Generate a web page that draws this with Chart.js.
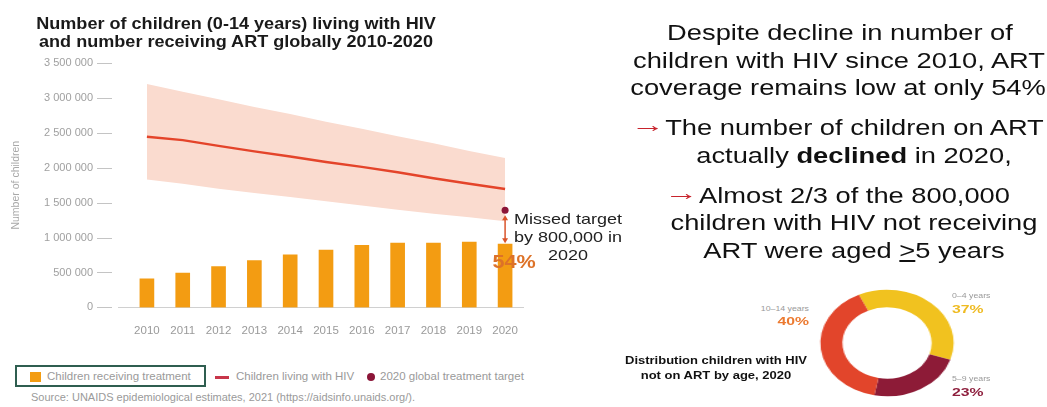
<!DOCTYPE html>
<html>
<head>
<meta charset="utf-8">
<script src="https://cdn.jsdelivr.net/npm/chart.js@4.4.1/dist/chart.umd.min.js"></script>
<style>
  html, body { margin:0; padding:0; background:#fff; }
  body { width:1047px; height:407px; overflow:hidden; position:relative; font-family:"Liberation Sans", Arial, sans-serif; }
  .t { position:absolute; white-space:nowrap; line-height:1; }
  .c { width:800px; text-align:center; }
  .arr { color:#c8232c; display:inline-block; transform:translateY(-3px) scaleX(1.25); margin-right:3px; }
  #main { position:absolute; left:0; top:0; }
  #donutWrap { position:absolute; left:827px; top:283px; width:120px; height:120px; transform:scaleX(1.25); }
</style>
</head>
<body>
<canvas id="main" width="545" height="350"></canvas>
<div id="donutWrap"><canvas id="donut" width="120" height="120"></canvas></div>

<!-- left chart title -->
<div class="t c" style="left:-164px;top:15.3px;font-size:16.5px;font-weight:bold;color:#1a1a1a;transform:scaleX(1.095)">Number of children (0-14 years) living with HIV</div>
<div class="t c" style="left:-164px;top:33px;font-size:16.5px;font-weight:bold;color:#1a1a1a;transform:scaleX(1.095)">and number receiving ART globally 2010-2020</div>

<!-- annotation -->
<div class="t c" style="left:168px;top:211.3px;font-size:15px;color:#222;transform:scaleX(1.2)">Missed target</div>
<div class="t c" style="left:168px;top:229.3px;font-size:15px;color:#222;transform:scaleX(1.2)">by 800,000 in</div>
<div class="t c" style="left:168px;top:247.3px;font-size:15px;color:#222;transform:scaleX(1.2)">2020</div>
<div class="t c" style="left:113.5px;top:253.1px;font-size:18px;font-weight:bold;color:#dd7228;transform:scaleX(1.2)">54%</div>

<!-- legend -->
<div style="position:absolute;left:15px;top:365px;width:191px;height:22px;border:2px solid #2f5e50;box-sizing:border-box;"></div>
<div style="position:absolute;left:30px;top:372px;width:11px;height:10px;background:#f39c12;"></div>
<div class="t" style="left:47px;top:371.3px;font-size:11.5px;color:#9a9a9a">Children receiving treatment</div>
<div style="position:absolute;left:215px;top:376px;width:14px;height:2.5px;background:#c8364a;"></div>
<div class="t" style="left:236px;top:371.3px;font-size:11.5px;color:#9a9a9a">Children living with HIV</div>
<div style="position:absolute;left:367px;top:373px;width:8px;height:8px;border-radius:50%;background:#8b1538;"></div>
<div class="t" style="left:380px;top:371.3px;font-size:11.5px;color:#9a9a9a">2020 global treatment target</div>
<div class="t" style="left:31px;top:392.3px;font-size:11px;color:#9a9a9a">Source: UNAIDS epidemiological estimates, 2021 (https://aidsinfo.unaids.org/).</div>

<!-- right text -->
<div class="t c" style="left:439.5px;top:22.1px;font-size:22px;color:#111;transform:scaleX(1.24)">Despite decline in number of</div>
<div class="t c" style="left:438.5px;top:49.7px;font-size:22px;color:#111;transform:scaleX(1.24)">children with HIV since 2010, ART</div>
<div class="t c" style="left:438px;top:77.4px;font-size:22px;color:#111;transform:scaleX(1.24)">coverage remains low at only 54%</div>
<div class="t c" style="left:439px;top:117.4px;font-size:22px;color:#111;transform:scaleX(1.24)"><span class="arr">→</span>The number of children on ART</div>
<div class="t c" style="left:454px;top:144.7px;font-size:22px;color:#111;transform:scaleX(1.24)">actually <b>declined</b> in 2020,</div>
<div class="t c" style="left:439px;top:184.7px;font-size:22px;color:#111;transform:scaleX(1.24)"><span class="arr">→</span>Almost 2/3 of the 800,000</div>
<div class="t c" style="left:453.5px;top:212.4px;font-size:22px;color:#111;transform:scaleX(1.24)">children with HIV not receiving</div>
<div class="t c" style="left:454px;top:239.7px;font-size:22px;color:#111;transform:scaleX(1.24)">ART were aged <u>&gt;</u>5 years</div>

<!-- donut texts -->
<div class="t c" style="left:316px;top:355.5px;font-size:10px;font-weight:bold;color:#111;transform:scaleX(1.3)">Distribution children with HIV</div>
<div class="t c" style="left:316px;top:371px;font-size:10px;font-weight:bold;color:#111;transform:scaleX(1.3)">not on ART by age, 2020</div>
<div class="t" style="left:952px;top:292.1px;font-size:7px;color:#999;transform:scaleX(1.25);transform-origin:left center">0–4 years</div>
<div class="t" style="left:952px;top:303.6px;font-size:11.5px;font-weight:bold;color:#efbb22;transform:scaleX(1.37);transform-origin:left center">37%</div>
<div class="t" style="left:952px;top:374.6px;font-size:7px;color:#999;transform:scaleX(1.25);transform-origin:left center">5–9 years</div>
<div class="t" style="left:952px;top:387px;font-size:11.5px;font-weight:bold;color:#8e1f3d;transform:scaleX(1.37);transform-origin:left center">23%</div>
<div class="t" style="left:609px;top:304.6px;width:200px;text-align:right;font-size:7px;color:#999;transform:scaleX(1.25);transform-origin:right center">10–14 years</div>
<div class="t" style="left:609px;top:316.3px;width:200px;text-align:right;font-size:11.5px;font-weight:bold;color:#ec7a30;transform:scaleX(1.37);transform-origin:right center">40%</div>

<script>
// ---- data ----
const years = ['2010','2011','2012','2013','2014','2015','2016','2017','2018','2019','2020'];
const childrenOnART = [409000, 493000, 585000, 669000, 753000, 822000, 888000, 920000, 920000, 934000, 906000];
const childrenLivingHIV = [2444000, 2396000, 2314000, 2235000, 2161000, 2082000, 2012000, 1935000, 1849000, 1770000, 1696000];
const livingUpper = [3200000, 3090000, 2980000, 2870000, 2770000, 2660000, 2560000, 2450000, 2350000, 2240000, 2140000];
const livingLower = [1830000, 1770000, 1700000, 1640000, 1580000, 1520000, 1460000, 1400000, 1340000, 1290000, 1235000];
const target2020 = [null, null, null, null, null, null, null, null, null, null, 1390000];
const yTicks = [0, 500000, 1000000, 1500000, 2000000, 2500000, 3000000, 3500000];

const ageGroups = ['0–4 years', '5–9 years', '10–14 years'];
const ageShares = [37, 23, 40];

const fmt = v => String(v).replace(/\B(?=(\d{3})+(?!\d))/g, ' ');

const dashPlugin = {
  id: 'dashes',
  afterDraw(chart) {
    const ys = chart.scales.y, xs = chart.scales.x, ctx = chart.ctx;
    ctx.save();
    ctx.strokeStyle = '#c4c4c4';
    ctx.lineWidth = 1;
    ys.ticks.forEach(t => {
      const y = Math.round(ys.getPixelForValue(t.value)) + 0.5;
      ctx.beginPath();
      ctx.moveTo(ys.right - 32, y);
      ctx.lineTo(ys.right - 17, y);
      ctx.stroke();
    });
    // extend baseline a little to the left, as in the original
    const y0 = Math.round(ys.getPixelForValue(0)) + 0.5;
    ctx.strokeStyle = '#d0d0d0';
    ctx.beginPath();
    ctx.moveTo(ys.right - 11, y0);
    ctx.lineTo(ys.right, y0);
    ctx.stroke();
    // missed-target arrow
    const i = years.length - 1;
    const x = xs.getPixelForValue(i);
    const yTop = ys.getPixelForValue(target2020[i]) + 5;
    const yBot = ys.getPixelForValue(childrenOnART[i]) - 1;
    ctx.strokeStyle = '#d9542b';
    ctx.fillStyle = '#d9542b';
    ctx.lineWidth = 1.5;
    ctx.beginPath();
    ctx.moveTo(x, yTop + 3);
    ctx.lineTo(x, yBot - 3);
    ctx.stroke();
    ctx.beginPath();
    ctx.moveTo(x, yTop); ctx.lineTo(x - 3, yTop + 5); ctx.lineTo(x + 3, yTop + 5); ctx.closePath(); ctx.fill();
    ctx.beginPath();
    ctx.moveTo(x, yBot); ctx.lineTo(x - 3, yBot - 5); ctx.lineTo(x + 3, yBot - 5); ctx.closePath(); ctx.fill();
    ctx.restore();
  }
};

new Chart(document.getElementById('main'), {
  type: 'bar',
  data: {
    labels: years,
    datasets: [
      { type: 'line', label: 'upper', data: livingUpper, fill: '+1', backgroundColor: '#fadbcf', borderWidth: 0, pointRadius: 0, order: 6 },
      { type: 'line', label: 'lower', data: livingLower, fill: false, borderWidth: 0, pointRadius: 0, order: 5 },
      { type: 'line', label: 'Children living with HIV', data: childrenLivingHIV, borderColor: '#e4442a', borderWidth: 2.4, pointRadius: 0, fill: false, tension: 0, order: 2 },
      { type: 'line', label: '2020 global treatment target', data: target2020, showLine: false, pointRadius: 3.5, pointBackgroundColor: '#8b1538', pointBorderWidth: 0, order: 1 },
      { type: 'bar', label: 'Children receiving treatment', data: childrenOnART, backgroundColor: '#f39c12', barThickness: 14, order: 3 }
    ]
  },
  options: {
    responsive: false,
    animation: false,
    devicePixelRatio: 1,
    layout: { padding: { top: 63, right: 22, bottom: 0, left: 0 } },
    plugins: { legend: { display: false }, tooltip: { enabled: false } },
    scales: {
      x: {
        offset: true,
        grid: { display: false, drawTicks: false },
        border: { display: true, color: '#d0d0d0', width: 1 },
        ticks: { color: '#9a9a9a', font: { family: 'Liberation Sans', size: 11.5 }, padding: 17, maxRotation: 0 },
        afterFit(s) { s.height = 39; }
      },
      y: {
        min: 0, max: 3500000,
        afterBuildTicks(s) { s.ticks = yTicks.map(v => ({ value: v })); },
        grid: { display: false, drawTicks: false },
        border: { display: false },
        ticks: { color: '#a0a0a0', font: { family: 'Liberation Sans', size: 11 }, padding: 36, callback: v => fmt(v) },
        title: { display: true, text: 'Number of children', color: '#a8a8a8', font: { family: 'Liberation Sans', size: 10.5 }, padding: { top: 10, bottom: 0 } },
        afterFit(s) { s.width = 129; }
      }
    }
  },
  plugins: [dashPlugin]
});

new Chart(document.getElementById('donut'), {
  type: 'doughnut',
  data: {
    labels: ageGroups,
    datasets: [{ data: ageShares, backgroundColor: ['#f1c21f', '#8d1b37', '#e2452b'], borderWidth: 0, hoverOffset: 0, radius: 53.3 }]
  },
  options: {
    responsive: false,
    animation: false,
    devicePixelRatio: 1,
    cutout: '67%',
    rotation: -25,
    plugins: { legend: { display: false }, tooltip: { enabled: false } }
  }
});
</script>
</body>
</html>
